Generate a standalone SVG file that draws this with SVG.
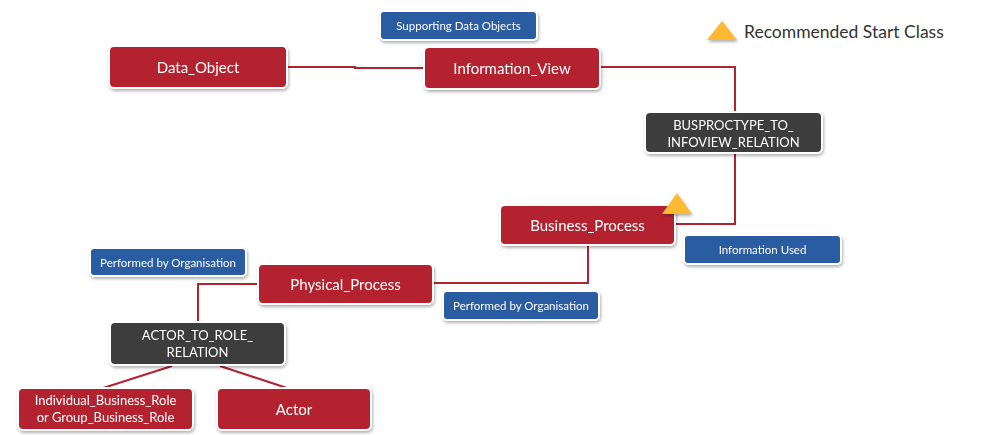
<svg xmlns="http://www.w3.org/2000/svg" width="992" height="435" viewBox="0 0 992 435">
<style>
.red{fill:#B3232F;stroke:#fff;stroke-width:2}
.dark{fill:#3E3E3E;stroke:#fff;stroke-width:2}
.blue{fill:#2A5BA1;stroke:#fff;stroke-width:2}
.box{filter:url(#sh)}
text{font-family:Lato,"Open Sans","Liberation Sans",sans-serif;fill:#fff;text-anchor:middle;dominant-baseline:central}
.big{font-size:15px}
.mid{font-size:13px}
.sm{font-size:11.5px}
.conn{fill:none;stroke:#B3232F;stroke-width:2}
</style>
<defs>
<filter id="sh" x="-10%" y="-20%" width="120%" height="150%">
<feDropShadow dx="1" dy="2" stdDeviation="1.5" flood-color="#000" flood-opacity="0.3"/>
</filter>
</defs>
<rect width="992" height="435" fill="#fff"/>
<g id="connectors">
<path class="conn" d="M287 67 H355 V68 H424"/>
<path class="conn" d="M600 67 H735 V112"/>
<path class="conn" d="M735 153 V224 H675"/>
<path class="conn" d="M588 245 V283 H433"/>
<path class="conn" d="M258 284 H198 V322"/>
<path class="conn" d="M172 366 L100 389"/>
<path class="conn" d="M220 366 L290 389"/>
</g>
<g id="supporting" class="box"><rect class="blue" x="380" y="11" width="157" height="29" rx="4"/><text class="sm" x="458.5" y="25.5">Supporting  Data Objects</text></g>
<g id="data_object" class="box"><rect class="red" x="109" y="46" width="178" height="42" rx="5"/><text class="big" x="198" y="67">Data_Object</text></g>
<g id="information_view" class="box"><rect class="red" x="424" y="47" width="176" height="42" rx="5"/><text class="big" x="512" y="68">Information_View</text></g>
<g id="busproctype" class="box"><rect class="dark" x="645" y="112" width="177" height="41" rx="5"/><text class="mid" x="733.5" y="124.5">BUSPROCTYPE_TO_</text><text class="mid" x="733.5" y="141.5">INFOVIEW_RELATION</text></g>
<g id="business_process" class="box"><rect class="red" x="500" y="205" width="175" height="40" rx="5"/><text class="big" x="587.5" y="225">Business_Process</text></g>
<g id="start_marker"><polygon points="677,193 662,214 692,214" fill="#FDB933" filter="url(#sh)"/></g>
<g id="information_used" class="box"><rect class="blue" x="684" y="235" width="157" height="29" rx="4"/><text class="sm" x="762.5" y="249.5">Information Used</text></g>
<g id="perf_org_left" class="box"><rect class="blue" x="90" y="248" width="156" height="28" rx="4"/><text class="sm" x="168" y="262">Performed by Organisation</text></g>
<g id="physical_process" class="box"><rect class="red" x="258" y="264" width="175" height="40" rx="5"/><text class="big" x="345.5" y="284">Physical_Process</text></g>
<g id="perf_org_right" class="box"><rect class="blue" x="443" y="291" width="156" height="29" rx="4"/><text class="sm" x="521" y="305.5">Performed by Organisation</text></g>
<g id="actor_to_role" class="box"><rect class="dark" x="110" y="322" width="175" height="43" rx="5"/><text class="mid" x="197.5" y="334.5">ACTOR_TO_ROLE_</text><text class="mid" x="197.5" y="351.5">RELATION</text></g>
<g id="individual_role" class="box"><rect class="red" x="18" y="388" width="175" height="42" rx="5"/><text class="mid" x="105.5" y="400">Individual_Business_Role</text><text class="mid" x="105.5" y="417">or Group_Business_Role</text></g>
<g id="actor" class="box"><rect class="red" x="217" y="388" width="154" height="42" rx="5"/><text class="big" x="294" y="409">Actor</text></g>
<g id="legend"><polygon points="722,21 707,40 737,40" fill="#FDB933" filter="url(#sh)"/><text x="744" y="31" style="fill:#333;text-anchor:start;font-size:17.5px">Recommended Start Class</text></g>
</svg>
